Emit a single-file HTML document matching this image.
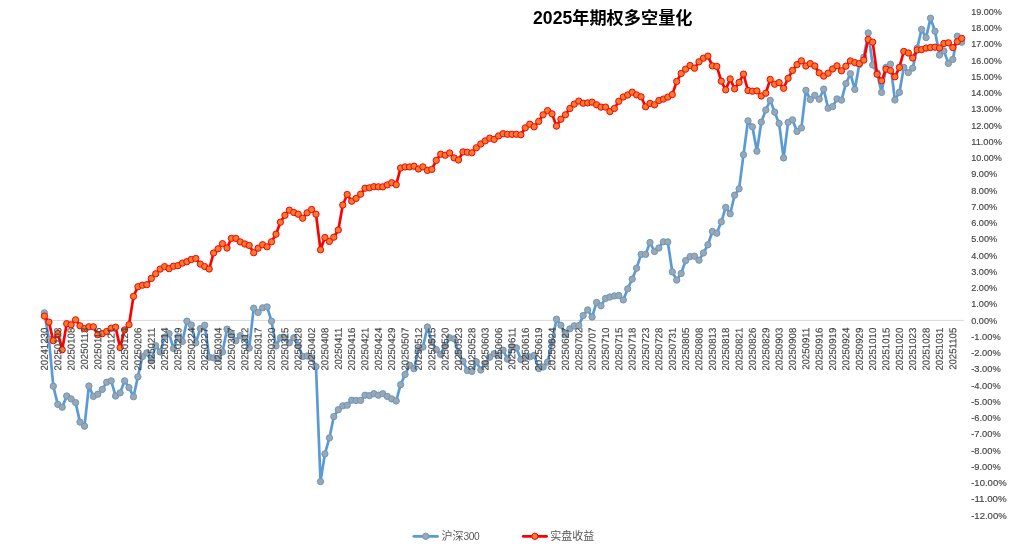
<!DOCTYPE html>
<html lang="zh"><head><meta charset="utf-8"><title>2025年期权多空量化</title>
<style>
html,body{margin:0;padding:0;background:#fff;}
body{width:1010px;height:547px;overflow:hidden;font-family:"Liberation Sans","Noto Sans CJK SC",sans-serif;}
svg{display:block}
.xl{font-size:10.0px;fill:#444;stroke:#444;stroke-width:0.15px;}
.yl{font-size:9.6px;fill:#444;stroke:#444;stroke-width:0.15px;}
.ttl{font-size:17.2px;font-weight:bold;fill:#000;}
.lg{font-size:11px;fill:#595959;}
</style></head><body>
<svg width="1010" height="547" viewBox="0 0 1010 547" font-family="'Liberation Sans','Noto Sans CJK SC',sans-serif">
<rect width="1010" height="547" fill="#fff"/>
<line x1="43" y1="320.4" x2="964" y2="320.4" stroke="#D9D9D9" stroke-width="1"/>
<g class="s1"><polyline fill="none" stroke="#5B9BD5" stroke-width="2.7" stroke-linejoin="round" stroke-linecap="round" points="44.4,312.8 48.9,339.2 53.3,386.2 57.8,404.4 62.2,407.2 66.7,396.0 71.1,398.9 75.6,402.6 80.0,422.1 84.5,426.2 88.9,386.0 93.4,396.4 97.8,394.2 102.3,389.4 106.7,382.2 111.2,380.8 115.6,396.0 120.1,392.9 124.6,380.8 129.0,387.6 133.5,396.7 137.9,376.9 142.4,356.6 146.8,352.9 151.3,360.2 155.7,345.7 160.2,352.0 164.6,337.1 169.1,333.6 173.5,348.5 178.0,336.7 182.4,341.5 186.9,321.1 191.3,324.9 195.8,342.9 200.3,328.6 204.7,325.2 209.2,357.2 213.6,357.9 218.1,358.6 222.5,352.0 227.0,329.2 231.4,334.2 235.9,340.8 240.3,335.7 244.8,338.4 249.2,348.1 253.7,308.2 258.1,312.4 262.6,307.8 267.1,306.9 271.5,321.2 276.0,346.0 280.4,337.7 284.9,337.7 289.3,342.8 293.8,337.7 298.2,345.6 302.7,356.5 307.1,356.0 311.6,357.8 316.0,366.7 320.5,481.6 324.9,453.9 329.4,437.9 333.8,416.6 338.3,409.7 342.8,405.8 347.2,405.2 351.7,400.2 356.1,400.5 360.6,400.4 365.0,395.2 369.5,395.6 373.9,393.7 378.4,395.2 382.8,393.7 387.3,396.4 391.7,398.9 396.2,401.0 400.6,384.6 405.1,374.5 409.5,365.2 414.0,368.7 418.5,349.6 422.9,347.1 427.4,327.0 431.8,341.6 436.3,349.6 440.7,354.5 445.2,345.7 449.6,337.8 454.1,338.8 458.5,352.7 463.0,361.4 467.4,370.5 471.9,371.4 476.3,361.7 480.8,370.0 485.2,363.8 489.7,357.2 494.2,353.7 498.6,355.4 503.1,350.2 507.5,359.2 512.0,347.1 516.4,347.8 520.9,359.6 525.3,356.4 529.8,356.9 534.2,355.4 538.7,368.6 543.1,367.0 547.6,362.1 552.0,342.2 556.5,319.2 560.9,325.2 565.4,334.6 569.9,328.8 574.3,325.8 578.8,325.6 583.2,315.6 587.7,309.9 592.1,317.0 596.6,302.4 601.0,305.8 605.5,298.4 609.9,297.0 614.4,295.9 618.8,295.5 623.3,299.9 627.7,288.8 632.2,279.1 636.6,268.2 641.1,254.4 645.6,254.4 650.0,242.5 654.5,251.5 658.9,248.0 663.4,241.8 667.8,241.9 672.3,271.9 676.7,280.1 681.2,273.5 685.6,260.6 690.1,256.6 694.5,256.2 699.0,260.2 703.4,253.0 707.9,244.8 712.4,231.5 716.8,233.2 721.3,221.8 725.7,207.4 730.2,213.8 734.6,195.2 739.1,188.8 743.5,154.7 748.0,120.8 752.4,126.8 756.9,151.2 761.3,122.1 765.8,110.0 770.2,100.3 774.7,112.2 779.1,123.4 783.6,158.0 788.1,122.3 792.5,119.8 797.0,131.4 801.4,127.9 805.9,90.3 810.3,99.6 814.8,95.3 819.2,99.2 823.7,89.1 828.1,108.2 832.6,106.6 837.0,98.9 841.5,100.1 845.9,83.6 850.4,73.6 854.8,89.4 859.3,64.6 863.8,57.2 868.2,33.0 872.7,65.0 877.1,72.9 881.6,92.4 886.0,67.3 890.5,64.2 894.9,100.0 899.4,92.4 903.8,67.4 908.3,72.6 912.7,68.1 917.2,48.1 921.6,29.4 926.1,37.6 930.5,18.2 935.0,31.2 939.5,55.1 943.9,50.9 948.4,63.4 952.8,59.4 957.3,36.2 961.7,42.2"/>
<g fill="#A5A5A5" stroke="#5B9BD5" stroke-width="1.0"><circle cx="44.4" cy="312.8" r="3.15"/><circle cx="48.9" cy="339.2" r="3.15"/><circle cx="53.3" cy="386.2" r="3.15"/><circle cx="57.8" cy="404.4" r="3.15"/><circle cx="62.2" cy="407.2" r="3.15"/><circle cx="66.7" cy="396.0" r="3.15"/><circle cx="71.1" cy="398.9" r="3.15"/><circle cx="75.6" cy="402.6" r="3.15"/><circle cx="80.0" cy="422.1" r="3.15"/><circle cx="84.5" cy="426.2" r="3.15"/><circle cx="88.9" cy="386.0" r="3.15"/><circle cx="93.4" cy="396.4" r="3.15"/><circle cx="97.8" cy="394.2" r="3.15"/><circle cx="102.3" cy="389.4" r="3.15"/><circle cx="106.7" cy="382.2" r="3.15"/><circle cx="111.2" cy="380.8" r="3.15"/><circle cx="115.6" cy="396.0" r="3.15"/><circle cx="120.1" cy="392.9" r="3.15"/><circle cx="124.6" cy="380.8" r="3.15"/><circle cx="129.0" cy="387.6" r="3.15"/><circle cx="133.5" cy="396.7" r="3.15"/><circle cx="137.9" cy="376.9" r="3.15"/><circle cx="142.4" cy="356.6" r="3.15"/><circle cx="146.8" cy="352.9" r="3.15"/><circle cx="151.3" cy="360.2" r="3.15"/><circle cx="155.7" cy="345.7" r="3.15"/><circle cx="160.2" cy="352.0" r="3.15"/><circle cx="164.6" cy="337.1" r="3.15"/><circle cx="169.1" cy="333.6" r="3.15"/><circle cx="173.5" cy="348.5" r="3.15"/><circle cx="178.0" cy="336.7" r="3.15"/><circle cx="182.4" cy="341.5" r="3.15"/><circle cx="186.9" cy="321.1" r="3.15"/><circle cx="191.3" cy="324.9" r="3.15"/><circle cx="195.8" cy="342.9" r="3.15"/><circle cx="200.3" cy="328.6" r="3.15"/><circle cx="204.7" cy="325.2" r="3.15"/><circle cx="209.2" cy="357.2" r="3.15"/><circle cx="213.6" cy="357.9" r="3.15"/><circle cx="218.1" cy="358.6" r="3.15"/><circle cx="222.5" cy="352.0" r="3.15"/><circle cx="227.0" cy="329.2" r="3.15"/><circle cx="231.4" cy="334.2" r="3.15"/><circle cx="235.9" cy="340.8" r="3.15"/><circle cx="240.3" cy="335.7" r="3.15"/><circle cx="244.8" cy="338.4" r="3.15"/><circle cx="249.2" cy="348.1" r="3.15"/><circle cx="253.7" cy="308.2" r="3.15"/><circle cx="258.1" cy="312.4" r="3.15"/><circle cx="262.6" cy="307.8" r="3.15"/><circle cx="267.1" cy="306.9" r="3.15"/><circle cx="271.5" cy="321.2" r="3.15"/><circle cx="276.0" cy="346.0" r="3.15"/><circle cx="280.4" cy="337.7" r="3.15"/><circle cx="284.9" cy="337.7" r="3.15"/><circle cx="289.3" cy="342.8" r="3.15"/><circle cx="293.8" cy="337.7" r="3.15"/><circle cx="298.2" cy="345.6" r="3.15"/><circle cx="302.7" cy="356.5" r="3.15"/><circle cx="307.1" cy="356.0" r="3.15"/><circle cx="311.6" cy="357.8" r="3.15"/><circle cx="316.0" cy="366.7" r="3.15"/><circle cx="320.5" cy="481.6" r="3.15"/><circle cx="324.9" cy="453.9" r="3.15"/><circle cx="329.4" cy="437.9" r="3.15"/><circle cx="333.8" cy="416.6" r="3.15"/><circle cx="338.3" cy="409.7" r="3.15"/><circle cx="342.8" cy="405.8" r="3.15"/><circle cx="347.2" cy="405.2" r="3.15"/><circle cx="351.7" cy="400.2" r="3.15"/><circle cx="356.1" cy="400.5" r="3.15"/><circle cx="360.6" cy="400.4" r="3.15"/><circle cx="365.0" cy="395.2" r="3.15"/><circle cx="369.5" cy="395.6" r="3.15"/><circle cx="373.9" cy="393.7" r="3.15"/><circle cx="378.4" cy="395.2" r="3.15"/><circle cx="382.8" cy="393.7" r="3.15"/><circle cx="387.3" cy="396.4" r="3.15"/><circle cx="391.7" cy="398.9" r="3.15"/><circle cx="396.2" cy="401.0" r="3.15"/><circle cx="400.6" cy="384.6" r="3.15"/><circle cx="405.1" cy="374.5" r="3.15"/><circle cx="409.5" cy="365.2" r="3.15"/><circle cx="414.0" cy="368.7" r="3.15"/><circle cx="418.5" cy="349.6" r="3.15"/><circle cx="422.9" cy="347.1" r="3.15"/><circle cx="427.4" cy="327.0" r="3.15"/><circle cx="431.8" cy="341.6" r="3.15"/><circle cx="436.3" cy="349.6" r="3.15"/><circle cx="440.7" cy="354.5" r="3.15"/><circle cx="445.2" cy="345.7" r="3.15"/><circle cx="449.6" cy="337.8" r="3.15"/><circle cx="454.1" cy="338.8" r="3.15"/><circle cx="458.5" cy="352.7" r="3.15"/><circle cx="463.0" cy="361.4" r="3.15"/><circle cx="467.4" cy="370.5" r="3.15"/><circle cx="471.9" cy="371.4" r="3.15"/><circle cx="476.3" cy="361.7" r="3.15"/><circle cx="480.8" cy="370.0" r="3.15"/><circle cx="485.2" cy="363.8" r="3.15"/><circle cx="489.7" cy="357.2" r="3.15"/><circle cx="494.2" cy="353.7" r="3.15"/><circle cx="498.6" cy="355.4" r="3.15"/><circle cx="503.1" cy="350.2" r="3.15"/><circle cx="507.5" cy="359.2" r="3.15"/><circle cx="512.0" cy="347.1" r="3.15"/><circle cx="516.4" cy="347.8" r="3.15"/><circle cx="520.9" cy="359.6" r="3.15"/><circle cx="525.3" cy="356.4" r="3.15"/><circle cx="529.8" cy="356.9" r="3.15"/><circle cx="534.2" cy="355.4" r="3.15"/><circle cx="538.7" cy="368.6" r="3.15"/><circle cx="543.1" cy="367.0" r="3.15"/><circle cx="547.6" cy="362.1" r="3.15"/><circle cx="552.0" cy="342.2" r="3.15"/><circle cx="556.5" cy="319.2" r="3.15"/><circle cx="560.9" cy="325.2" r="3.15"/><circle cx="565.4" cy="334.6" r="3.15"/><circle cx="569.9" cy="328.8" r="3.15"/><circle cx="574.3" cy="325.8" r="3.15"/><circle cx="578.8" cy="325.6" r="3.15"/><circle cx="583.2" cy="315.6" r="3.15"/><circle cx="587.7" cy="309.9" r="3.15"/><circle cx="592.1" cy="317.0" r="3.15"/><circle cx="596.6" cy="302.4" r="3.15"/><circle cx="601.0" cy="305.8" r="3.15"/><circle cx="605.5" cy="298.4" r="3.15"/><circle cx="609.9" cy="297.0" r="3.15"/><circle cx="614.4" cy="295.9" r="3.15"/><circle cx="618.8" cy="295.5" r="3.15"/><circle cx="623.3" cy="299.9" r="3.15"/><circle cx="627.7" cy="288.8" r="3.15"/><circle cx="632.2" cy="279.1" r="3.15"/><circle cx="636.6" cy="268.2" r="3.15"/><circle cx="641.1" cy="254.4" r="3.15"/><circle cx="645.6" cy="254.4" r="3.15"/><circle cx="650.0" cy="242.5" r="3.15"/><circle cx="654.5" cy="251.5" r="3.15"/><circle cx="658.9" cy="248.0" r="3.15"/><circle cx="663.4" cy="241.8" r="3.15"/><circle cx="667.8" cy="241.9" r="3.15"/><circle cx="672.3" cy="271.9" r="3.15"/><circle cx="676.7" cy="280.1" r="3.15"/><circle cx="681.2" cy="273.5" r="3.15"/><circle cx="685.6" cy="260.6" r="3.15"/><circle cx="690.1" cy="256.6" r="3.15"/><circle cx="694.5" cy="256.2" r="3.15"/><circle cx="699.0" cy="260.2" r="3.15"/><circle cx="703.4" cy="253.0" r="3.15"/><circle cx="707.9" cy="244.8" r="3.15"/><circle cx="712.4" cy="231.5" r="3.15"/><circle cx="716.8" cy="233.2" r="3.15"/><circle cx="721.3" cy="221.8" r="3.15"/><circle cx="725.7" cy="207.4" r="3.15"/><circle cx="730.2" cy="213.8" r="3.15"/><circle cx="734.6" cy="195.2" r="3.15"/><circle cx="739.1" cy="188.8" r="3.15"/><circle cx="743.5" cy="154.7" r="3.15"/><circle cx="748.0" cy="120.8" r="3.15"/><circle cx="752.4" cy="126.8" r="3.15"/><circle cx="756.9" cy="151.2" r="3.15"/><circle cx="761.3" cy="122.1" r="3.15"/><circle cx="765.8" cy="110.0" r="3.15"/><circle cx="770.2" cy="100.3" r="3.15"/><circle cx="774.7" cy="112.2" r="3.15"/><circle cx="779.1" cy="123.4" r="3.15"/><circle cx="783.6" cy="158.0" r="3.15"/><circle cx="788.1" cy="122.3" r="3.15"/><circle cx="792.5" cy="119.8" r="3.15"/><circle cx="797.0" cy="131.4" r="3.15"/><circle cx="801.4" cy="127.9" r="3.15"/><circle cx="805.9" cy="90.3" r="3.15"/><circle cx="810.3" cy="99.6" r="3.15"/><circle cx="814.8" cy="95.3" r="3.15"/><circle cx="819.2" cy="99.2" r="3.15"/><circle cx="823.7" cy="89.1" r="3.15"/><circle cx="828.1" cy="108.2" r="3.15"/><circle cx="832.6" cy="106.6" r="3.15"/><circle cx="837.0" cy="98.9" r="3.15"/><circle cx="841.5" cy="100.1" r="3.15"/><circle cx="845.9" cy="83.6" r="3.15"/><circle cx="850.4" cy="73.6" r="3.15"/><circle cx="854.8" cy="89.4" r="3.15"/><circle cx="859.3" cy="64.6" r="3.15"/><circle cx="863.8" cy="57.2" r="3.15"/><circle cx="868.2" cy="33.0" r="3.15"/><circle cx="872.7" cy="65.0" r="3.15"/><circle cx="877.1" cy="72.9" r="3.15"/><circle cx="881.6" cy="92.4" r="3.15"/><circle cx="886.0" cy="67.3" r="3.15"/><circle cx="890.5" cy="64.2" r="3.15"/><circle cx="894.9" cy="100.0" r="3.15"/><circle cx="899.4" cy="92.4" r="3.15"/><circle cx="903.8" cy="67.4" r="3.15"/><circle cx="908.3" cy="72.6" r="3.15"/><circle cx="912.7" cy="68.1" r="3.15"/><circle cx="917.2" cy="48.1" r="3.15"/><circle cx="921.6" cy="29.4" r="3.15"/><circle cx="926.1" cy="37.6" r="3.15"/><circle cx="930.5" cy="18.2" r="3.15"/><circle cx="935.0" cy="31.2" r="3.15"/><circle cx="939.5" cy="55.1" r="3.15"/><circle cx="943.9" cy="50.9" r="3.15"/><circle cx="948.4" cy="63.4" r="3.15"/><circle cx="952.8" cy="59.4" r="3.15"/><circle cx="957.3" cy="36.2" r="3.15"/><circle cx="961.7" cy="42.2" r="3.15"/></g></g>
<g class="s2"><polyline fill="none" stroke="#FF0000" stroke-width="2.7" stroke-linejoin="round" stroke-linecap="round" points="44.4,316.1 48.9,322.1 53.3,340.7 57.8,333.5 62.2,349.8 66.7,323.7 71.1,324.8 75.6,319.8 80.0,325.8 84.5,328.6 88.9,326.8 93.4,326.8 97.8,334.6 102.3,333.7 106.7,331.4 111.2,328.2 115.6,327.2 120.1,347.6 124.6,330.0 129.0,324.7 133.5,296.4 137.9,286.7 142.4,285.2 146.8,284.7 151.3,278.4 155.7,273.8 160.2,269.1 164.6,266.6 169.1,268.7 173.5,266.2 178.0,265.6 182.4,263.1 186.9,261.7 191.3,259.5 195.8,258.5 200.3,264.1 204.7,266.6 209.2,269.0 213.6,253.0 218.1,248.8 222.5,243.7 227.0,248.0 231.4,238.4 235.9,238.4 240.3,241.9 244.8,244.0 249.2,245.4 253.7,252.7 258.1,248.2 262.6,244.7 267.1,246.8 271.5,241.8 276.0,234.2 280.4,222.2 284.9,215.3 289.3,210.2 293.8,212.5 298.2,214.2 302.7,218.2 307.1,212.8 311.6,209.5 316.0,214.2 320.5,249.8 324.9,237.5 329.4,241.4 333.8,237.2 338.3,230.0 342.8,205.0 347.2,194.5 351.7,201.2 356.1,198.4 360.6,194.2 365.0,188.2 369.5,187.8 373.9,186.7 378.4,186.8 382.8,186.8 387.3,184.9 391.7,182.7 396.2,184.7 400.6,168.0 405.1,166.9 409.5,166.9 414.0,166.2 418.5,169.0 422.9,166.9 427.4,170.4 431.8,169.4 436.3,160.4 440.7,154.2 445.2,155.2 449.6,153.0 454.1,157.9 458.5,160.0 463.0,151.9 467.4,152.3 471.9,152.8 476.3,147.8 480.8,144.0 485.2,140.9 489.7,138.2 494.2,139.4 498.6,135.9 503.1,133.7 507.5,134.3 512.0,134.3 516.4,134.3 520.9,134.8 525.3,127.8 529.8,124.2 534.2,126.8 538.7,121.4 543.1,114.8 547.6,110.6 552.0,113.8 556.5,126.1 560.9,119.2 565.4,114.8 569.9,108.5 574.3,104.1 578.8,101.1 583.2,103.2 587.7,102.9 592.1,102.2 596.6,104.8 601.0,107.1 605.5,107.1 609.9,111.6 614.4,108.5 618.8,101.3 623.3,97.0 627.7,95.0 632.2,92.2 636.6,94.9 641.1,96.8 645.6,106.8 650.0,103.4 654.5,104.8 658.9,100.5 663.4,99.1 667.8,97.1 672.3,94.6 676.7,81.4 681.2,73.5 685.6,69.2 690.1,65.5 694.5,68.2 699.0,61.8 703.4,58.2 707.9,56.1 712.4,65.9 716.8,66.4 721.3,81.2 725.7,89.8 730.2,78.9 734.6,88.8 739.1,82.4 743.5,74.1 748.0,90.5 752.4,91.2 756.9,90.9 761.3,96.0 765.8,93.2 770.2,79.4 774.7,84.2 779.1,82.6 783.6,88.3 788.1,78.3 792.5,70.5 797.0,64.6 801.4,60.8 805.9,66.0 810.3,63.6 814.8,66.0 819.2,72.9 823.7,76.1 828.1,73.2 832.6,69.0 837.0,65.8 841.5,70.8 845.9,66.2 850.4,60.9 854.8,62.6 859.3,63.6 863.8,60.1 868.2,39.4 872.7,42.1 877.1,74.3 881.6,80.8 886.0,69.2 890.5,70.6 894.9,76.8 899.4,67.4 903.8,51.4 908.3,53.0 912.7,58.0 917.2,49.9 921.6,49.6 926.1,48.1 930.5,47.5 935.0,47.2 939.5,48.0 943.9,43.5 948.4,42.8 952.8,47.6 957.3,41.6 961.7,38.4"/>
<g fill="#ED7D31" stroke="#FF0000" stroke-width="1.0"><circle cx="44.4" cy="316.1" r="3.15"/><circle cx="48.9" cy="322.1" r="3.15"/><circle cx="53.3" cy="340.7" r="3.15"/><circle cx="57.8" cy="333.5" r="3.15"/><circle cx="62.2" cy="349.8" r="3.15"/><circle cx="66.7" cy="323.7" r="3.15"/><circle cx="71.1" cy="324.8" r="3.15"/><circle cx="75.6" cy="319.8" r="3.15"/><circle cx="80.0" cy="325.8" r="3.15"/><circle cx="84.5" cy="328.6" r="3.15"/><circle cx="88.9" cy="326.8" r="3.15"/><circle cx="93.4" cy="326.8" r="3.15"/><circle cx="97.8" cy="334.6" r="3.15"/><circle cx="102.3" cy="333.7" r="3.15"/><circle cx="106.7" cy="331.4" r="3.15"/><circle cx="111.2" cy="328.2" r="3.15"/><circle cx="115.6" cy="327.2" r="3.15"/><circle cx="120.1" cy="347.6" r="3.15"/><circle cx="124.6" cy="330.0" r="3.15"/><circle cx="129.0" cy="324.7" r="3.15"/><circle cx="133.5" cy="296.4" r="3.15"/><circle cx="137.9" cy="286.7" r="3.15"/><circle cx="142.4" cy="285.2" r="3.15"/><circle cx="146.8" cy="284.7" r="3.15"/><circle cx="151.3" cy="278.4" r="3.15"/><circle cx="155.7" cy="273.8" r="3.15"/><circle cx="160.2" cy="269.1" r="3.15"/><circle cx="164.6" cy="266.6" r="3.15"/><circle cx="169.1" cy="268.7" r="3.15"/><circle cx="173.5" cy="266.2" r="3.15"/><circle cx="178.0" cy="265.6" r="3.15"/><circle cx="182.4" cy="263.1" r="3.15"/><circle cx="186.9" cy="261.7" r="3.15"/><circle cx="191.3" cy="259.5" r="3.15"/><circle cx="195.8" cy="258.5" r="3.15"/><circle cx="200.3" cy="264.1" r="3.15"/><circle cx="204.7" cy="266.6" r="3.15"/><circle cx="209.2" cy="269.0" r="3.15"/><circle cx="213.6" cy="253.0" r="3.15"/><circle cx="218.1" cy="248.8" r="3.15"/><circle cx="222.5" cy="243.7" r="3.15"/><circle cx="227.0" cy="248.0" r="3.15"/><circle cx="231.4" cy="238.4" r="3.15"/><circle cx="235.9" cy="238.4" r="3.15"/><circle cx="240.3" cy="241.9" r="3.15"/><circle cx="244.8" cy="244.0" r="3.15"/><circle cx="249.2" cy="245.4" r="3.15"/><circle cx="253.7" cy="252.7" r="3.15"/><circle cx="258.1" cy="248.2" r="3.15"/><circle cx="262.6" cy="244.7" r="3.15"/><circle cx="267.1" cy="246.8" r="3.15"/><circle cx="271.5" cy="241.8" r="3.15"/><circle cx="276.0" cy="234.2" r="3.15"/><circle cx="280.4" cy="222.2" r="3.15"/><circle cx="284.9" cy="215.3" r="3.15"/><circle cx="289.3" cy="210.2" r="3.15"/><circle cx="293.8" cy="212.5" r="3.15"/><circle cx="298.2" cy="214.2" r="3.15"/><circle cx="302.7" cy="218.2" r="3.15"/><circle cx="307.1" cy="212.8" r="3.15"/><circle cx="311.6" cy="209.5" r="3.15"/><circle cx="316.0" cy="214.2" r="3.15"/><circle cx="320.5" cy="249.8" r="3.15"/><circle cx="324.9" cy="237.5" r="3.15"/><circle cx="329.4" cy="241.4" r="3.15"/><circle cx="333.8" cy="237.2" r="3.15"/><circle cx="338.3" cy="230.0" r="3.15"/><circle cx="342.8" cy="205.0" r="3.15"/><circle cx="347.2" cy="194.5" r="3.15"/><circle cx="351.7" cy="201.2" r="3.15"/><circle cx="356.1" cy="198.4" r="3.15"/><circle cx="360.6" cy="194.2" r="3.15"/><circle cx="365.0" cy="188.2" r="3.15"/><circle cx="369.5" cy="187.8" r="3.15"/><circle cx="373.9" cy="186.7" r="3.15"/><circle cx="378.4" cy="186.8" r="3.15"/><circle cx="382.8" cy="186.8" r="3.15"/><circle cx="387.3" cy="184.9" r="3.15"/><circle cx="391.7" cy="182.7" r="3.15"/><circle cx="396.2" cy="184.7" r="3.15"/><circle cx="400.6" cy="168.0" r="3.15"/><circle cx="405.1" cy="166.9" r="3.15"/><circle cx="409.5" cy="166.9" r="3.15"/><circle cx="414.0" cy="166.2" r="3.15"/><circle cx="418.5" cy="169.0" r="3.15"/><circle cx="422.9" cy="166.9" r="3.15"/><circle cx="427.4" cy="170.4" r="3.15"/><circle cx="431.8" cy="169.4" r="3.15"/><circle cx="436.3" cy="160.4" r="3.15"/><circle cx="440.7" cy="154.2" r="3.15"/><circle cx="445.2" cy="155.2" r="3.15"/><circle cx="449.6" cy="153.0" r="3.15"/><circle cx="454.1" cy="157.9" r="3.15"/><circle cx="458.5" cy="160.0" r="3.15"/><circle cx="463.0" cy="151.9" r="3.15"/><circle cx="467.4" cy="152.3" r="3.15"/><circle cx="471.9" cy="152.8" r="3.15"/><circle cx="476.3" cy="147.8" r="3.15"/><circle cx="480.8" cy="144.0" r="3.15"/><circle cx="485.2" cy="140.9" r="3.15"/><circle cx="489.7" cy="138.2" r="3.15"/><circle cx="494.2" cy="139.4" r="3.15"/><circle cx="498.6" cy="135.9" r="3.15"/><circle cx="503.1" cy="133.7" r="3.15"/><circle cx="507.5" cy="134.3" r="3.15"/><circle cx="512.0" cy="134.3" r="3.15"/><circle cx="516.4" cy="134.3" r="3.15"/><circle cx="520.9" cy="134.8" r="3.15"/><circle cx="525.3" cy="127.8" r="3.15"/><circle cx="529.8" cy="124.2" r="3.15"/><circle cx="534.2" cy="126.8" r="3.15"/><circle cx="538.7" cy="121.4" r="3.15"/><circle cx="543.1" cy="114.8" r="3.15"/><circle cx="547.6" cy="110.6" r="3.15"/><circle cx="552.0" cy="113.8" r="3.15"/><circle cx="556.5" cy="126.1" r="3.15"/><circle cx="560.9" cy="119.2" r="3.15"/><circle cx="565.4" cy="114.8" r="3.15"/><circle cx="569.9" cy="108.5" r="3.15"/><circle cx="574.3" cy="104.1" r="3.15"/><circle cx="578.8" cy="101.1" r="3.15"/><circle cx="583.2" cy="103.2" r="3.15"/><circle cx="587.7" cy="102.9" r="3.15"/><circle cx="592.1" cy="102.2" r="3.15"/><circle cx="596.6" cy="104.8" r="3.15"/><circle cx="601.0" cy="107.1" r="3.15"/><circle cx="605.5" cy="107.1" r="3.15"/><circle cx="609.9" cy="111.6" r="3.15"/><circle cx="614.4" cy="108.5" r="3.15"/><circle cx="618.8" cy="101.3" r="3.15"/><circle cx="623.3" cy="97.0" r="3.15"/><circle cx="627.7" cy="95.0" r="3.15"/><circle cx="632.2" cy="92.2" r="3.15"/><circle cx="636.6" cy="94.9" r="3.15"/><circle cx="641.1" cy="96.8" r="3.15"/><circle cx="645.6" cy="106.8" r="3.15"/><circle cx="650.0" cy="103.4" r="3.15"/><circle cx="654.5" cy="104.8" r="3.15"/><circle cx="658.9" cy="100.5" r="3.15"/><circle cx="663.4" cy="99.1" r="3.15"/><circle cx="667.8" cy="97.1" r="3.15"/><circle cx="672.3" cy="94.6" r="3.15"/><circle cx="676.7" cy="81.4" r="3.15"/><circle cx="681.2" cy="73.5" r="3.15"/><circle cx="685.6" cy="69.2" r="3.15"/><circle cx="690.1" cy="65.5" r="3.15"/><circle cx="694.5" cy="68.2" r="3.15"/><circle cx="699.0" cy="61.8" r="3.15"/><circle cx="703.4" cy="58.2" r="3.15"/><circle cx="707.9" cy="56.1" r="3.15"/><circle cx="712.4" cy="65.9" r="3.15"/><circle cx="716.8" cy="66.4" r="3.15"/><circle cx="721.3" cy="81.2" r="3.15"/><circle cx="725.7" cy="89.8" r="3.15"/><circle cx="730.2" cy="78.9" r="3.15"/><circle cx="734.6" cy="88.8" r="3.15"/><circle cx="739.1" cy="82.4" r="3.15"/><circle cx="743.5" cy="74.1" r="3.15"/><circle cx="748.0" cy="90.5" r="3.15"/><circle cx="752.4" cy="91.2" r="3.15"/><circle cx="756.9" cy="90.9" r="3.15"/><circle cx="761.3" cy="96.0" r="3.15"/><circle cx="765.8" cy="93.2" r="3.15"/><circle cx="770.2" cy="79.4" r="3.15"/><circle cx="774.7" cy="84.2" r="3.15"/><circle cx="779.1" cy="82.6" r="3.15"/><circle cx="783.6" cy="88.3" r="3.15"/><circle cx="788.1" cy="78.3" r="3.15"/><circle cx="792.5" cy="70.5" r="3.15"/><circle cx="797.0" cy="64.6" r="3.15"/><circle cx="801.4" cy="60.8" r="3.15"/><circle cx="805.9" cy="66.0" r="3.15"/><circle cx="810.3" cy="63.6" r="3.15"/><circle cx="814.8" cy="66.0" r="3.15"/><circle cx="819.2" cy="72.9" r="3.15"/><circle cx="823.7" cy="76.1" r="3.15"/><circle cx="828.1" cy="73.2" r="3.15"/><circle cx="832.6" cy="69.0" r="3.15"/><circle cx="837.0" cy="65.8" r="3.15"/><circle cx="841.5" cy="70.8" r="3.15"/><circle cx="845.9" cy="66.2" r="3.15"/><circle cx="850.4" cy="60.9" r="3.15"/><circle cx="854.8" cy="62.6" r="3.15"/><circle cx="859.3" cy="63.6" r="3.15"/><circle cx="863.8" cy="60.1" r="3.15"/><circle cx="868.2" cy="39.4" r="3.15"/><circle cx="872.7" cy="42.1" r="3.15"/><circle cx="877.1" cy="74.3" r="3.15"/><circle cx="881.6" cy="80.8" r="3.15"/><circle cx="886.0" cy="69.2" r="3.15"/><circle cx="890.5" cy="70.6" r="3.15"/><circle cx="894.9" cy="76.8" r="3.15"/><circle cx="899.4" cy="67.4" r="3.15"/><circle cx="903.8" cy="51.4" r="3.15"/><circle cx="908.3" cy="53.0" r="3.15"/><circle cx="912.7" cy="58.0" r="3.15"/><circle cx="917.2" cy="49.9" r="3.15"/><circle cx="921.6" cy="49.6" r="3.15"/><circle cx="926.1" cy="48.1" r="3.15"/><circle cx="930.5" cy="47.5" r="3.15"/><circle cx="935.0" cy="47.2" r="3.15"/><circle cx="939.5" cy="48.0" r="3.15"/><circle cx="943.9" cy="43.5" r="3.15"/><circle cx="948.4" cy="42.8" r="3.15"/><circle cx="952.8" cy="47.6" r="3.15"/><circle cx="957.3" cy="41.6" r="3.15"/><circle cx="961.7" cy="38.4" r="3.15"/></g></g>
<g class="xl" text-anchor="end">
<text transform="translate(47.8,327.7) rotate(-89.9) scale(0.965,1)">20241230</text><text transform="translate(61.2,327.7) rotate(-89.9) scale(0.965,1)">20250103</text><text transform="translate(74.5,327.7) rotate(-89.9) scale(0.965,1)">20250108</text><text transform="translate(87.9,327.7) rotate(-89.9) scale(0.965,1)">20250113</text><text transform="translate(101.2,327.7) rotate(-89.9) scale(0.965,1)">20250116</text><text transform="translate(114.6,327.7) rotate(-89.9) scale(0.965,1)">20250121</text><text transform="translate(128.0,327.7) rotate(-89.9) scale(0.965,1)">20250124</text><text transform="translate(141.3,327.7) rotate(-89.9) scale(0.965,1)">20250206</text><text transform="translate(154.7,327.7) rotate(-89.9) scale(0.965,1)">20250211</text><text transform="translate(168.0,327.7) rotate(-89.9) scale(0.965,1)">20250214</text><text transform="translate(181.4,327.7) rotate(-89.9) scale(0.965,1)">20250219</text><text transform="translate(194.7,327.7) rotate(-89.9) scale(0.965,1)">20250224</text><text transform="translate(208.1,327.7) rotate(-89.9) scale(0.965,1)">20250227</text><text transform="translate(221.5,327.7) rotate(-89.9) scale(0.965,1)">20250304</text><text transform="translate(234.8,327.7) rotate(-89.9) scale(0.965,1)">20250307</text><text transform="translate(248.2,327.7) rotate(-89.9) scale(0.965,1)">20250312</text><text transform="translate(261.5,327.7) rotate(-89.9) scale(0.965,1)">20250317</text><text transform="translate(274.9,327.7) rotate(-89.9) scale(0.965,1)">20250320</text><text transform="translate(288.3,327.7) rotate(-89.9) scale(0.965,1)">20250325</text><text transform="translate(301.6,327.7) rotate(-89.9) scale(0.965,1)">20250328</text><text transform="translate(315.0,327.7) rotate(-89.9) scale(0.965,1)">20250402</text><text transform="translate(328.3,327.7) rotate(-89.9) scale(0.965,1)">20250408</text><text transform="translate(341.7,327.7) rotate(-89.9) scale(0.965,1)">20250411</text><text transform="translate(355.1,327.7) rotate(-89.9) scale(0.965,1)">20250416</text><text transform="translate(368.4,327.7) rotate(-89.9) scale(0.965,1)">20250421</text><text transform="translate(381.8,327.7) rotate(-89.9) scale(0.965,1)">20250424</text><text transform="translate(395.1,327.7) rotate(-89.9) scale(0.965,1)">20250429</text><text transform="translate(408.5,327.7) rotate(-89.9) scale(0.965,1)">20250507</text><text transform="translate(421.9,327.7) rotate(-89.9) scale(0.965,1)">20250512</text><text transform="translate(435.2,327.7) rotate(-89.9) scale(0.965,1)">20250515</text><text transform="translate(448.6,327.7) rotate(-89.9) scale(0.965,1)">20250520</text><text transform="translate(461.9,327.7) rotate(-89.9) scale(0.965,1)">20250523</text><text transform="translate(475.3,327.7) rotate(-89.9) scale(0.965,1)">20250528</text><text transform="translate(488.6,327.7) rotate(-89.9) scale(0.965,1)">20250603</text><text transform="translate(502.0,327.7) rotate(-89.9) scale(0.965,1)">20250606</text><text transform="translate(515.4,327.7) rotate(-89.9) scale(0.965,1)">20250611</text><text transform="translate(528.7,327.7) rotate(-89.9) scale(0.965,1)">20250616</text><text transform="translate(542.1,327.7) rotate(-89.9) scale(0.965,1)">20250619</text><text transform="translate(555.4,327.7) rotate(-89.9) scale(0.965,1)">20250624</text><text transform="translate(568.8,327.7) rotate(-89.9) scale(0.965,1)">20250627</text><text transform="translate(582.2,327.7) rotate(-89.9) scale(0.965,1)">20250702</text><text transform="translate(595.5,327.7) rotate(-89.9) scale(0.965,1)">20250707</text><text transform="translate(608.9,327.7) rotate(-89.9) scale(0.965,1)">20250710</text><text transform="translate(622.2,327.7) rotate(-89.9) scale(0.965,1)">20250715</text><text transform="translate(635.6,327.7) rotate(-89.9) scale(0.965,1)">20250718</text><text transform="translate(649.0,327.7) rotate(-89.9) scale(0.965,1)">20250723</text><text transform="translate(662.3,327.7) rotate(-89.9) scale(0.965,1)">20250728</text><text transform="translate(675.7,327.7) rotate(-89.9) scale(0.965,1)">20250731</text><text transform="translate(689.0,327.7) rotate(-89.9) scale(0.965,1)">20250805</text><text transform="translate(702.4,327.7) rotate(-89.9) scale(0.965,1)">20250808</text><text transform="translate(715.8,327.7) rotate(-89.9) scale(0.965,1)">20250813</text><text transform="translate(729.1,327.7) rotate(-89.9) scale(0.965,1)">20250818</text><text transform="translate(742.5,327.7) rotate(-89.9) scale(0.965,1)">20250821</text><text transform="translate(755.8,327.7) rotate(-89.9) scale(0.965,1)">20250826</text><text transform="translate(769.2,327.7) rotate(-89.9) scale(0.965,1)">20250829</text><text transform="translate(782.5,327.7) rotate(-89.9) scale(0.965,1)">20250903</text><text transform="translate(795.9,327.7) rotate(-89.9) scale(0.965,1)">20250908</text><text transform="translate(809.3,327.7) rotate(-89.9) scale(0.965,1)">20250911</text><text transform="translate(822.6,327.7) rotate(-89.9) scale(0.965,1)">20250916</text><text transform="translate(836.0,327.7) rotate(-89.9) scale(0.965,1)">20250919</text><text transform="translate(849.3,327.7) rotate(-89.9) scale(0.965,1)">20250924</text><text transform="translate(862.7,327.7) rotate(-89.9) scale(0.965,1)">20250929</text><text transform="translate(876.1,327.7) rotate(-89.9) scale(0.965,1)">20251010</text><text transform="translate(889.4,327.7) rotate(-89.9) scale(0.965,1)">20251015</text><text transform="translate(902.8,327.7) rotate(-89.9) scale(0.965,1)">20251020</text><text transform="translate(916.1,327.7) rotate(-89.9) scale(0.965,1)">20251023</text><text transform="translate(929.5,327.7) rotate(-89.9) scale(0.965,1)">20251028</text><text transform="translate(942.9,327.7) rotate(-89.9) scale(0.965,1)">20251031</text><text transform="translate(956.2,327.7) rotate(-89.9) scale(0.965,1)">20251105</text>
</g>
<g class="yl">
<text x="971.2" y="14.9" textLength="30.7" lengthAdjust="spacingAndGlyphs">19.00%</text><text x="971.2" y="31.2" textLength="30.7" lengthAdjust="spacingAndGlyphs">18.00%</text><text x="971.2" y="47.4" textLength="30.7" lengthAdjust="spacingAndGlyphs">17.00%</text><text x="971.2" y="63.7" textLength="30.7" lengthAdjust="spacingAndGlyphs">16.00%</text><text x="971.2" y="79.9" textLength="30.7" lengthAdjust="spacingAndGlyphs">15.00%</text><text x="971.2" y="96.2" textLength="30.7" lengthAdjust="spacingAndGlyphs">14.00%</text><text x="971.2" y="112.4" textLength="30.7" lengthAdjust="spacingAndGlyphs">13.00%</text><text x="971.2" y="128.7" textLength="30.7" lengthAdjust="spacingAndGlyphs">12.00%</text><text x="971.2" y="144.9" textLength="30.7" lengthAdjust="spacingAndGlyphs">11.00%</text><text x="971.2" y="161.2" textLength="30.7" lengthAdjust="spacingAndGlyphs">10.00%</text><text x="971.2" y="177.4" textLength="26.0" lengthAdjust="spacingAndGlyphs">9.00%</text><text x="971.2" y="193.7" textLength="26.0" lengthAdjust="spacingAndGlyphs">8.00%</text><text x="971.2" y="209.9" textLength="26.0" lengthAdjust="spacingAndGlyphs">7.00%</text><text x="971.2" y="226.2" textLength="26.0" lengthAdjust="spacingAndGlyphs">6.00%</text><text x="971.2" y="242.4" textLength="26.0" lengthAdjust="spacingAndGlyphs">5.00%</text><text x="971.2" y="258.7" textLength="26.0" lengthAdjust="spacingAndGlyphs">4.00%</text><text x="971.2" y="274.9" textLength="26.0" lengthAdjust="spacingAndGlyphs">3.00%</text><text x="971.2" y="291.2" textLength="26.0" lengthAdjust="spacingAndGlyphs">2.00%</text><text x="971.2" y="307.4" textLength="26.0" lengthAdjust="spacingAndGlyphs">1.00%</text><text x="971.2" y="323.7" textLength="26.0" lengthAdjust="spacingAndGlyphs">0.00%</text><text x="971.2" y="339.9" textLength="29.5" lengthAdjust="spacingAndGlyphs">-1.00%</text><text x="971.2" y="356.2" textLength="29.5" lengthAdjust="spacingAndGlyphs">-2.00%</text><text x="971.2" y="372.4" textLength="29.5" lengthAdjust="spacingAndGlyphs">-3.00%</text><text x="971.2" y="388.7" textLength="29.5" lengthAdjust="spacingAndGlyphs">-4.00%</text><text x="971.2" y="404.9" textLength="29.5" lengthAdjust="spacingAndGlyphs">-5.00%</text><text x="971.2" y="421.2" textLength="29.5" lengthAdjust="spacingAndGlyphs">-6.00%</text><text x="971.2" y="437.4" textLength="29.5" lengthAdjust="spacingAndGlyphs">-7.00%</text><text x="971.2" y="453.7" textLength="29.5" lengthAdjust="spacingAndGlyphs">-8.00%</text><text x="971.2" y="469.9" textLength="29.5" lengthAdjust="spacingAndGlyphs">-9.00%</text><text x="971.2" y="486.2" textLength="35.5" lengthAdjust="spacingAndGlyphs">-10.00%</text><text x="971.2" y="502.4" textLength="35.5" lengthAdjust="spacingAndGlyphs">-11.00%</text><text x="971.2" y="518.7" textLength="35.5" lengthAdjust="spacingAndGlyphs">-12.00%</text>
</g>
<text class="ttl" x="612.8" y="24.3" text-anchor="middle"><tspan font-size="17.6">2025</tspan>年期权多空量化</text>
<line x1="413.8" y1="536.3" x2="437.6" y2="536.3" stroke="#5B9BD5" stroke-width="2.7" stroke-linecap="round"/><circle cx="425.7" cy="536.3" r="3.15" fill="#A5A5A5" stroke="#5B9BD5" stroke-width="1"/>
<text class="lg" x="441.5" y="540.0999999999999">沪深<tspan font-size="10.2" letter-spacing="-0.4">300</tspan></text>
<line x1="523.2" y1="536.3" x2="546.6" y2="536.3" stroke="#FF0000" stroke-width="2.7" stroke-linecap="round"/><circle cx="534.9" cy="536.3" r="3.15" fill="#ED7D31" stroke="#FF0000" stroke-width="1"/>
<text class="lg" x="550.3" y="540.0999999999999">实盘收益</text>
</svg></body></html>
